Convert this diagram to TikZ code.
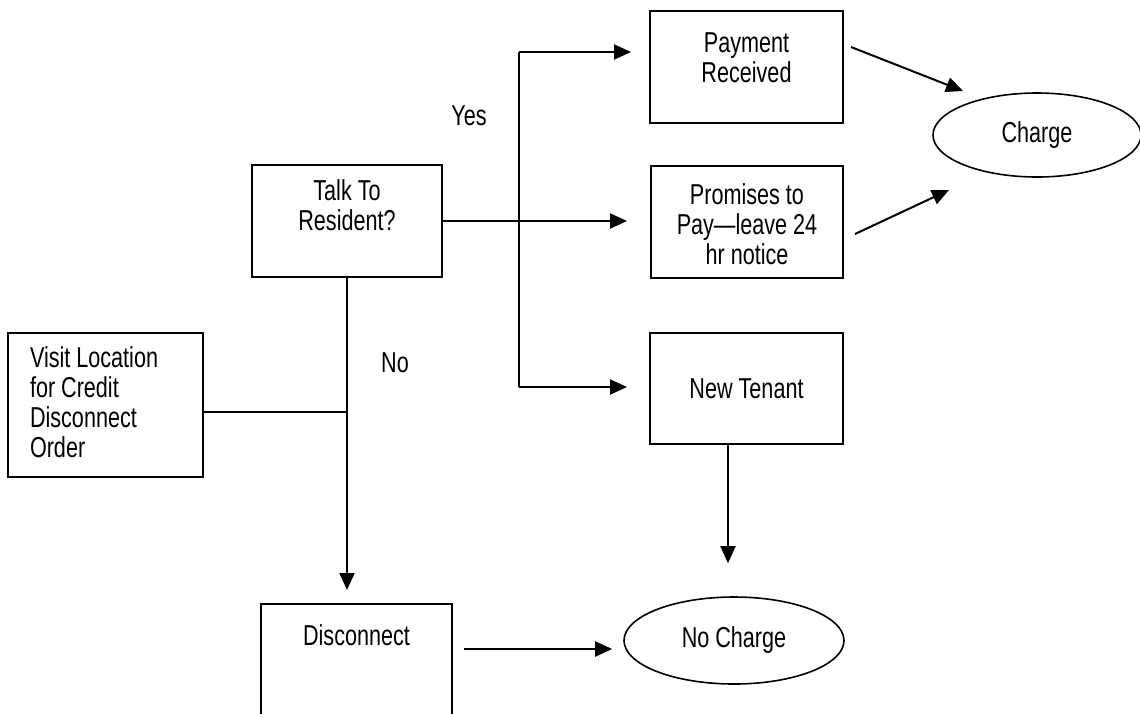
\documentclass[tikz,border=0pt]{standalone}
\usepackage{fontspec}
\setmainfont{Liberation Sans}[FakeStretch=0.75]
\usepackage{tikz}
\usetikzlibrary{arrows.meta,shapes.geometric}

\begin{document}
\begin{tikzpicture}[x=0.5pt, y=-0.5pt, >={Triangle[length=8.5pt,width=7.5pt]}, line width=1pt,
  every node/.style={font=\fontsize{14.4}{15}\selectfont},
  box/.style={draw, rectangle, minimum width=96.5pt, minimum height=56pt, inner sep=0pt},
  intext/.style={anchor=north, inner sep=0pt, align=center},
  oval/.style={draw, ellipse, inner sep=0pt, line width=.8pt}]
  \useasboundingbox (0,0) rectangle (1140,713);
  \clip (0,0) rectangle (1140,713);
  \node[box, minimum width=97.5pt, minimum height=72pt,
    label={[intext, anchor=north west, align=left, xshift=11pt, yshift=-7pt]north west:{Visit Location\\for Credit\\Disconnect\\Order}}] (visit) at (105.5,405) {};
  \node[box, minimum width=95pt, label={[intext, yshift=-7.5pt]north:{Talk To\\Resident?}}] (talk) at (347,221) {};
  \node[box, label={[intext, yshift=-11pt]north:{Payment\\Received}}] (paid) at (746.5,67) {};
  \node[box, minimum width=96pt, label={[intext, yshift=-9pt]north:{Promises to\\Pay—leave 24\\hr notice}}] (promise) at (747,222) {};
  \node[box, minimum height=55.5pt] (tenant) at (746.5,388.5) {New Tenant};
  \node[box, minimum width=95.5pt, minimum height=70pt, label={[intext, yshift=-10.5pt]north:{Disconnect}}] (disconnect) at (356.5,674) {};
  \node[oval, minimum width=104pt, minimum height=42pt] (charge) at (1037,135) {Charge};
  \node[oval, minimum width=110pt, minimum height=43.5pt] (nocharge) at (734,640.5) {No Charge};
  \node (yes) at (469,116) {Yes};
  \node (no) at (395,363) {No};

  \coordinate (yesTop) at (519,52);
  \coordinate (yesBot) at (519,387);
  \coordinate (join) at (347,412);
  \coordinate (drop) at (728,444);
  \draw (yesTop) -- (yesBot);
  \draw[->, shorten >=9pt] (yesTop) -- (yesTop -| paid.west);
  \draw[->, shorten >=11.5pt] (talk.east) -- (talk.east -| promise.west);
  \draw[->, shorten >=11pt] (yesBot) -- (yesBot -| tenant.west);
  \draw[->, shorten >=6.5pt] (talk.south) -- (talk.south |- disconnect.north);
  \draw (join -| visit.east) -- (join);
  \draw[->, shorten >=16.5pt] (drop) -- (drop |- nocharge.north);
  \draw[->, shorten <=5.5pt, shorten >=5.5pt] (disconnect.east |- 0,649) -- (nocharge.west |- 0,649);
  \draw[->] ([shift={(7,-20)}]paid.east) -- ([shift={(-74,-44)}]charge.center);
  \draw[->] ([shift={(11,12)}]promise.east) -- ([shift={(-88,55)}]charge.center);
\end{tikzpicture}
\end{document}
